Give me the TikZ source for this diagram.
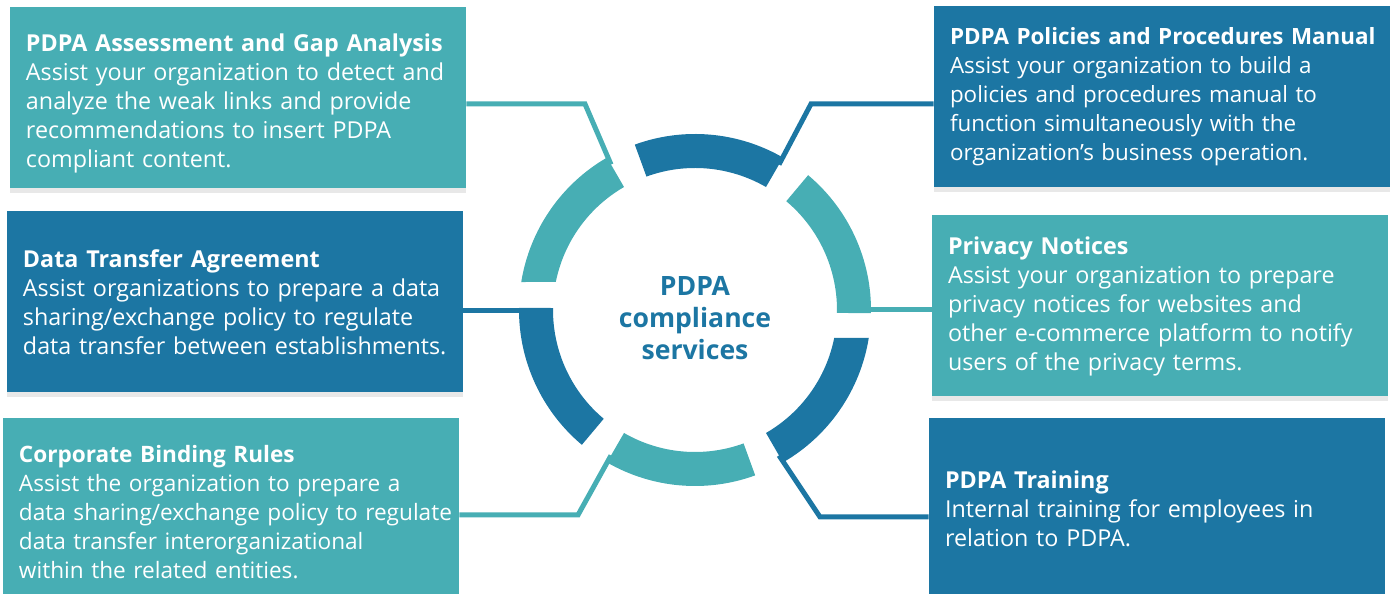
\documentclass[tikz,border=0pt]{standalone}
\usepackage{fontspec}
\setmainfont{Open Sans}
\usetikzlibrary{calc,shadows}
\definecolor{white}{RGB}{255,255,255}
\definecolor{teal_green}{RGB}{71,174,180}
\definecolor{deep_blue}{RGB}{28,118,163}

\begin{document}
\begin{tikzpicture}[x=0.5pt,y=0.5pt,
	card/.style={rectangle,text=white,text width=228pt,inner xsep=0pt,inner ysep=0pt,minimum height=90.5pt,font=\fontsize{11.65}{14.5}\selectfont,execute at begin node={\leftskip=8pt\rightskip=0pt plus 1fil\parindent=0pt},drop shadow={opacity=0.18,shadow xshift=0pt,shadow yshift=-2.5pt}},
	link/.style={line width=2.5pt}]
	\useasboundingbox (0,0) rectangle (1399,594);

	% service boxes
	\node[card,fill=teal_green] (1) at (238,496.5) {\rule{0pt}{15pt}\textbf{PDPA Assessment and Gap Analysis}\\Assist your organization to detect and\\analyze the weak links and provide\\recommendations to insert PDPA\\compliant content.};
	\node[card,fill=deep_blue,font=\fontsize{11.2}{14.5}\selectfont] (2) at (1162,497.5) {\textbf{PDPA Policies and Procedures Manual}\\Assist your organization to build a\\policies and procedures manual to\\function simultaneously with the\\organization’s business operation.};
	\node[card,fill=deep_blue] (3) at (235,292) {\textbf{Data Transfer Agreement}\\Assist organizations to prepare a data\\sharing/exchange policy to regulate\\data transfer between establishments.};
	\node[card,fill=teal_green] (4) at (1160,288) {\textbf{Privacy Notices}\\Assist your organization to prepare\\privacy notices for websites and\\other e-commerce platform to notify\\users of the privacy terms.};
	\node[card,fill=teal_green,font=\fontsize{11.3}{14.5}\selectfont] (5) at (231,85) {\rule{0pt}{11.7pt}\textbf{Corporate Binding Rules}\\Assist the organization to prepare a\\data sharing/exchange policy to regulate\\data transfer interorganizational\\within the related entities.};
	\node[card,fill=deep_blue] (6) at (1157,85) {\textbf{PDPA Training}\\Internal training for employees in\\relation to PDPA.};

	% ring centre and connector points
	\coordinate (c) at (695,284);
	\node[text=deep_blue,align=center,font=\fontsize{13.3}{16}\selectfont\bfseries] (0) at (695,276) {PDPA\\compliance\\services};
	\coordinate (e1) at ($(c)+(120:168)$);
	\coordinate (e2) at ($(c)+(60:168)$);
	\coordinate (e3) at ($(c)+(-160,-1)$);
	\coordinate (e4) at ($(c)+(160,0)$);
	\coordinate (e5) at ($(c)+(-120:168)$);
	\coordinate (e6) at ($(c)+(-60:168)$);
	\coordinate (k1) at (585,490);
	\coordinate (k2) at (811,490);
	\coordinate (k5) at (578,79);
	\coordinate (k6) at (820,77);

	\foreach \b/\a/\k/\e/\c in {1/east/k1/e1/teal_green,2/west/k2/e2/deep_blue,5/east/k5/e5/teal_green,6/west/k6/e6/deep_blue}
		\draw[link,\c] (\b.\a |- \k) -- (\k) -- (\e);
	\foreach \b/\a/\e/\c in {3/east/e3/deep_blue,4/west/e4/teal_green}
		\draw[link,\c] (\b.\a |- \e) -- (\e);

	% ring segments
	\begin{scope}[shift={(c)}]
		\foreach \c/\p/\q/\r/\s in {deep_blue/60/110/60/110,teal_green/-1/50/-1.2/50,deep_blue/-60/-9.15/-60/-11.37,teal_green/-120/-70/-120/-70,deep_blue/179.3/230/179.2/230,teal_green/120/170.85/120/168.6}
			\fill[\c] (\p:176) arc[start angle=\p,end angle=\q,radius=176] -- (\s:142) arc[start angle=\s,end angle=\r,radius=142] -- cycle;
	\end{scope}
\end{tikzpicture}
\end{document}
